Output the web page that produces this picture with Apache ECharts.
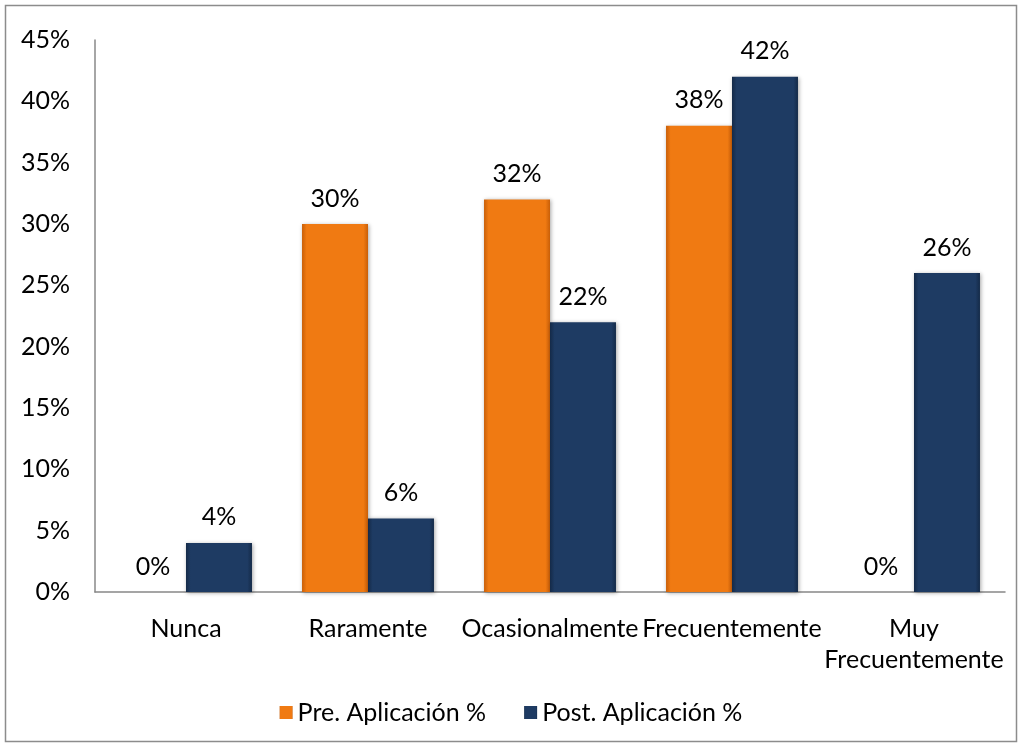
<!DOCTYPE html>
<html>
<head>
<meta charset="utf-8">
<script src="https://cdn.jsdelivr.net/npm/echarts@6/dist/echarts.min.js"></script>
<style>
  html, body { margin: 0; padding: 0; background: #ffffff; }
  #chart { width: 1022px; height: 747px; }
</style>
</head>
<body>
<div id="chart"></div>
<script>
// Frequency categories and percentages before / after the application
const categories = ['Nunca', 'Raramente', 'Ocasionalmente', 'Frecuentemente', 'Muy\nFrecuentemente'];
const preValues = [0, 30, 32, 38, 0];
const postValues = [4, 6, 22, 42, 26];
const seriesNames = ['Pre. Aplicación %', 'Post. Aplicación %'];
const yTicks = { min: 0, max: 45, interval: 5 };

const FONT = 'Lato, Calibri, "Open Sans", sans-serif';
const FS = 25;

// Bevelled look: darker edges, flat face
function bevel(base, edge) {
  return {
    type: 'linear', x: 0, y: 0, x2: 1, y2: 0,
    colorStops: [
      { offset: 0, color: edge },
      { offset: 0.07, color: base },
      { offset: 0.93, color: base },
      { offset: 1, color: edge }
    ]
  };
}

const label = {
  show: true,
  position: 'top',
  distance: 13,
  formatter: p => p.value + '%',
  color: '#000000',
  fontFamily: FONT,
  fontSize: FS
};

const chart = echarts.init(document.getElementById('chart'));
chart.setOption({
  animation: false,
  backgroundColor: '#ffffff',
  graphic: [{
    type: 'rect',
    shape: { x: 5.5, y: 5.5, width: 1011, height: 736 },
    style: { fill: 'none', stroke: '#8c8c8c', lineWidth: 1.5 },
    silent: true
  }],
  grid: { left: 95, right: 17, top: 40, bottom: 155 },
  legend: {
    bottom: 17,
    left: 'center',
    itemWidth: 13,
    itemHeight: 13,
    itemGap: 38,
    itemStyle: { borderWidth: 0 },
    textStyle: { fontFamily: FONT, fontSize: FS, color: '#000000', padding: [0, 0, 0, 0] },
    data: [
      { name: seriesNames[0], icon: 'rect' },
      { name: seriesNames[1], icon: 'rect' }
    ]
  },
  xAxis: {
    type: 'category',
    data: categories,
    axisLine: { lineStyle: { color: '#888888', width: 1.5 } },
    axisTick: { show: false },
    axisLabel: {
      interval: 0,
      margin: 21,
      color: '#000000',
      fontFamily: FONT,
      fontSize: FS,
      lineHeight: 31
    }
  },
  yAxis: {
    type: 'value',
    min: yTicks.min,
    max: yTicks.max,
    interval: yTicks.interval,
    splitLine: { show: false },
    axisLine: { show: true, lineStyle: { color: '#888888', width: 1.5 } },
    axisTick: { show: false },
    axisLabel: {
      margin: 25,
      formatter: '{value}%',
      color: '#000000',
      fontFamily: FONT,
      fontSize: FS
    }
  },
  series: [
    {
      name: seriesNames[0],
      type: 'bar',
      data: preValues,
      barGap: '0%',
      barCategoryGap: '27.5%',
      itemStyle: {
        color: bevel('#F07A12', '#C95F08'),
        borderWidth: 0,
        shadowColor: 'rgba(0,0,0,0.35)',
        shadowBlur: 4,
        shadowOffsetX: 1,
        shadowOffsetY: 1
      },
      label: label
    },
    {
      name: seriesNames[1],
      type: 'bar',
      data: postValues,
      barGap: '0%',
      barCategoryGap: '27.5%',
      itemStyle: {
        color: bevel('#1E3B63', '#142A48'),
        borderWidth: 0,
        shadowColor: 'rgba(0,0,0,0.35)',
        shadowBlur: 4,
        shadowOffsetX: 1,
        shadowOffsetY: 1
      },
      label: label
    }
  ]
});
</script>
</body>
</html>
